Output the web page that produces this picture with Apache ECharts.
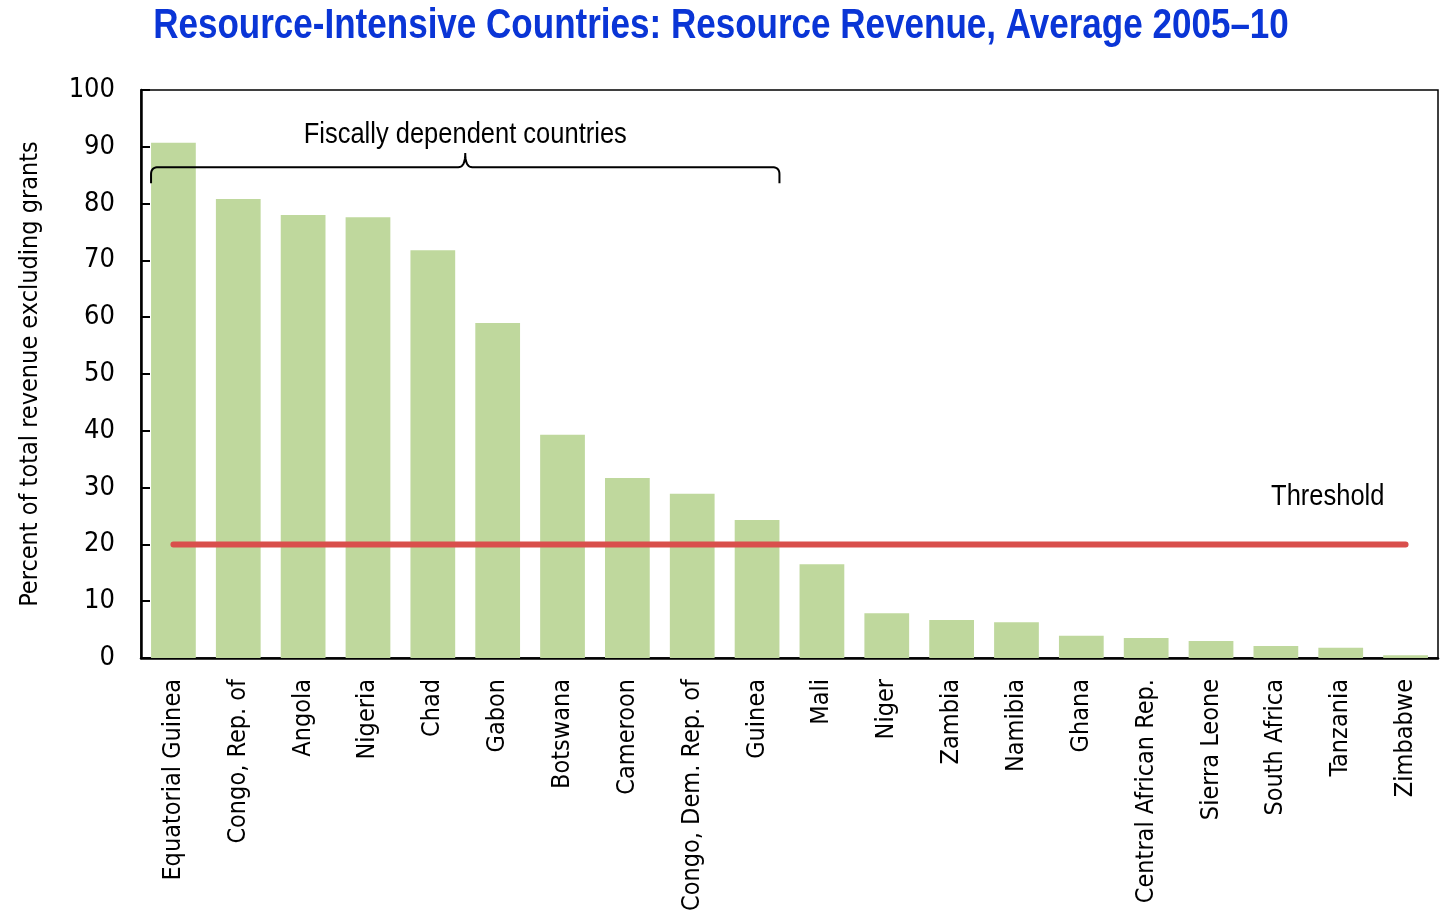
<!DOCTYPE html>
<html>
<head>
<meta charset="utf-8">
<script src="https://cdn.jsdelivr.net/npm/echarts@6/dist/echarts.min.js"></script>
<style>
  html, body { margin: 0; padding: 0; background: #fff; }
  #main { width: 1441px; height: 918px; }
</style>
</head>
<body>
<div id="main"></div>
<script>
var countries = ['Equatorial Guinea', 'Congo, Rep. of', 'Angola', 'Nigeria', 'Chad', 'Gabon',
  'Botswana', 'Cameroon', 'Congo, Dem. Rep. of', 'Guinea', 'Mali', 'Niger', 'Zambia',
  'Namibia', 'Ghana', 'Central African Rep.', 'Sierra Leone', 'South Africa', 'Tanzania', 'Zimbabwe'];
var revenue = [90.7, 80.8, 78.0, 77.6, 71.8, 59.0, 39.3, 31.7, 28.9, 24.3,
  16.5, 7.9, 6.7, 6.3, 3.9, 3.5, 3.0, 2.1, 1.8, 0.5];
var threshold = countries.map(function () { return 20; });
var yTicks = [0, 100, 10]; // min, max, step

var font = "'DejaVu Sans Condensed', 'Liberation Sans', sans-serif";
var narrow = "'Liberation Sans', Arial, sans-serif"; // squeezed with scaleX below

var chartDom = document.getElementById('main');
var myChart = echarts.init(chartDom);
var option = {
  animation: false,
  grid: {
    left: 141, top: 90, right: 3, height: 568,
    show: true, borderColor: '#000', borderWidth: 1.5, backgroundColor: 'transparent'
  },
  xAxis: {
    type: 'category',
    data: countries,
    axisLine: { lineStyle: { color: '#000', width: 2.5 } },
    axisTick: { inside: true, length: 10, lineStyle: { color: '#000', width: 2 } },
    axisLabel: {
      rotate: 90, interval: 0, margin: 21, color: '#000',
      fontSize: 25, fontFamily: font
    }
  },
  yAxis: {
    type: 'value',
    min: yTicks[0], max: yTicks[1], interval: yTicks[2],
    name: 'Percent of total revenue excluding grants',
    nameLocation: 'middle',
    nameGap: 98,
    nameTextStyle: { color: '#000', fontSize: 25, fontFamily: font },
    axisLine: { show: true, lineStyle: { color: '#000', width: 2.5 } },
    axisTick: { show: true, inside: true, length: 9, lineStyle: { color: '#000', width: 2 } },
    axisLabel: { color: '#000', fontSize: 27, fontFamily: font, margin: 26 },
    splitLine: { show: false }
  },
  series: [
    {
      name: 'Resource revenue',
      type: 'bar',
      data: revenue,
      barCategoryGap: '31%',
      itemStyle: { color: '#bfd89d' }
    },
    {
      name: 'Threshold',
      type: 'line',
      data: threshold,
      symbol: 'none',
      z: 5,
      lineStyle: { color: '#d94f4c', width: 6, cap: 'round' }
    }
  ]
};
myChart.setOption(option);

// bracket over the fiscally dependent group + labels
function px(i, v) { return myChart.convertToPixel({ xAxisIndex: 0, yAxisIndex: 0 }, [i, v]); }
var band = px(1, 0)[0] - px(0, 0)[0];
var barW = band * 0.69;
var x0 = px(0, 0)[0] - barW / 2;
var x1 = px(9, 0)[0] + barW / 2;
var xm = (x0 + x1) / 2;
var yLine = px(0, 86.4)[1];
var yEnd = px(0, 83.6)[1];
var yTip = px(0, 88.9)[1];
var r = 7;

function quad(pts, a, c, b) {
  for (var t = 0.1; t <= 1.001; t += 0.1) {
    var u = 1 - t;
    pts.push([u * u * a[0] + 2 * u * t * c[0] + t * t * b[0], u * u * a[1] + 2 * u * t * c[1] + t * t * b[1]]);
  }
}
var pts = [[x0, yEnd], [x0, yLine + r]];
quad(pts, [x0, yLine + r], [x0, yLine], [x0 + r, yLine]);
pts.push([xm - r, yLine]);
quad(pts, [xm - r, yLine], [xm, yLine], [xm, yTip]);
quad(pts, [xm, yTip], [xm, yLine], [xm + r, yLine]);
pts.push([x1 - r, yLine]);
quad(pts, [x1 - r, yLine], [x1, yLine], [x1, yLine + r]);
pts.push([x1, yEnd]);

// category axis rounds fractional indices, so offset by hand
var thrX = px(17, 0)[0] + band * 0.8;
var thrY = px(0, 28.4)[1];
myChart.setOption({
  graphic: [
    { type: 'polyline', shape: { points: pts }, style: { fill: null, stroke: '#000', lineWidth: 2 }, z: 10 },
    {
      type: 'text', x: 721, y: 26, scaleX: 0.834,
      style: {
        text: 'Resource-Intensive Countries: Resource Revenue, Average 2005\u201310',
        font: 'bold 42px ' + narrow, fill: '#0a35d6', align: 'center', verticalAlign: 'middle'
      }
    },
    {
      type: 'text', x: xm, y: px(0, 92.2)[1], scaleX: 0.85,
      style: { text: 'Fiscally dependent countries', font: '30px ' + narrow, fill: '#000', align: 'center', verticalAlign: 'middle' },
      z: 10
    },
    {
      type: 'text', x: thrX, y: thrY, scaleX: 0.85,
      style: { text: 'Threshold', font: '30px ' + narrow, fill: '#000', align: 'center', verticalAlign: 'middle' },
      z: 10
    }
  ]
});
</script>
</body>
</html>
